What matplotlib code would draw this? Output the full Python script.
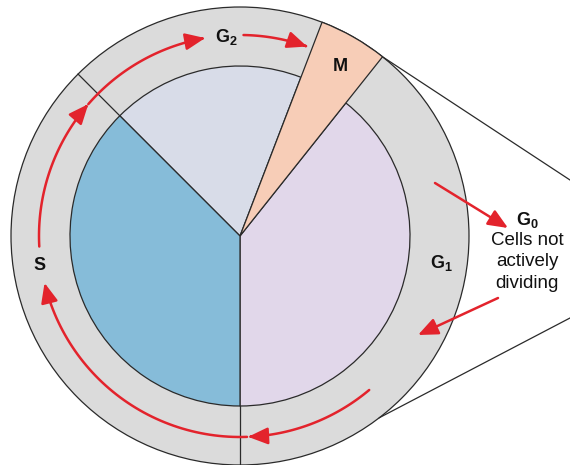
import numpy as np
import matplotlib
matplotlib.use("Agg")
import matplotlib.pyplot as plt
from matplotlib.patches import Wedge, Circle, FancyArrowPatch
from matplotlib.path import Path

plt.rcParams['font.family'] = ['Liberation Sans', 'DejaVu Sans']
plt.rcParams['mathtext.fontset'] = 'custom'
plt.rcParams['mathtext.rm'] = 'Liberation Sans'
plt.rcParams['mathtext.bf'] = 'Liberation Sans:bold'
plt.rcParams['mathtext.it'] = 'Liberation Sans:italic'

# ---- data: cell-cycle phases (angles in degrees, counter-clockwise from +x) ----
phases = ['G1', 'M', 'G2', 'S']
phase_start = [-90.0, 51.5, 69.0, 135.0]
phase_end = [51.5, 69.0, 135.0, 270.0]
phase_colors = ['#E1D7EA', '#F7CDB7', '#D8DCE8', '#86BCD9']
phase_labels = [r'$\mathbf{G_1}$', r'$\mathbf{M}$', r'$\mathbf{G_2}$', r'$\mathbf{S}$']
label_xy = [(441, 202), (340, 398), (226, 428), (40, 200)]

# cycle arrows along the ring (start angle, end angle)
arc_start = [183.0, 139.0, 89.0, 310.0, 272.0]
arc_end = [139.0, 100.0, 70.5, 272.3, 193.5]

# G0 side arrows (x0, y0, x1, y1)
g0_arrows = [(435, 282, 508, 237), (498, 167, 418, 130)]
g0_lines = [r'$\mathbf{G_0}$', 'Cells not', 'actively', 'dividing']
g0_y = [245, 224, 203, 182]

# ---- geometry ----
cx, cy = 240.0, 229.0
r_in, r_out, r_arc = 170.0, 229.0, 201.0
edge = '#2a2a2a'
red = '#E3232C'
ring = '#DBDBDB'

fig = plt.figure(figsize=(5.7, 4.65), dpi=100)
ax = fig.add_axes([0, 0, 1, 1])

# outer ring
ax.add_patch(Circle((cx, cy), r_out, facecolor=ring, edgecolor=edge, lw=0.9, zorder=1))

# inner sectors
for name, a0, a1, col in zip(phases, phase_start, phase_end, phase_colors):
    if name == 'M':
        continue
    ax.add_patch(Wedge((cx, cy), r_in, a0, a1, facecolor=col, edgecolor=edge, lw=0.9, zorder=2))

# M spans the full radius
im = phases.index('M')
ax.add_patch(Wedge((cx, cy), r_out, phase_start[im], phase_end[im],
                   facecolor=phase_colors[im], edgecolor=edge, lw=0.9, zorder=3))

# radial boundaries through the ring
for ang in [135.0, 270.0]:
    t = np.deg2rad(ang)
    ax.plot([cx + r_in * np.cos(t), cx + r_out * np.cos(t)],
            [cy + r_in * np.sin(t), cy + r_out * np.sin(t)], color=edge, lw=0.9, zorder=3)

# fan lines to the G0 region
t_up = np.deg2rad(51.5)
t_lo = np.deg2rad(-52.5)
ax.plot([cx + r_out * np.cos(t_up), 570], [cy + r_out * np.sin(t_up), 285], color=edge, lw=0.9, zorder=3)
ax.plot([cx + r_out * np.cos(t_lo), 570], [cy + r_out * np.sin(t_lo), 147], color=edge, lw=0.9, zorder=3)

# red cycle arrows
for a0, a1 in zip(arc_start, arc_end):
    th = np.deg2rad(np.linspace(a0, a1, 60))
    verts = np.column_stack([cx + r_arc * np.cos(th), cy + r_arc * np.sin(th)])
    codes = [Path.MOVETO] + [Path.LINETO] * (len(verts) - 1)
    arr = FancyArrowPatch(path=Path(verts, codes),
                          arrowstyle='-|>,head_length=0.75,head_width=0.32',
                          mutation_scale=16, color=red, lw=1.8, zorder=5,
                          shrinkA=0, shrinkB=0)
    ax.add_patch(arr)

for x0, y0, x1, y1 in g0_arrows:
    ax.add_patch(FancyArrowPatch((x0, y0), (x1, y1),
                                 arrowstyle='-|>,head_length=0.75,head_width=0.32',
                                 mutation_scale=16, color=red, lw=1.8, zorder=5,
                                 shrinkA=0, shrinkB=0))

# labels
for lab, (x, y) in zip(phase_labels, label_xy):
    ax.text(x, y, lab, ha='center', va='center', fontsize=13, color='#111111', zorder=6)

for i, (txt, y) in enumerate(zip(g0_lines, g0_y)):
    ax.text(527, y, txt, ha='center', va='center', fontsize=13 if i == 0 else 13.5,
            color='#111111', zorder=6)

ax.set_xlim(0, 570)
ax.set_ylim(0, 465)
ax.set_aspect('equal')
ax.axis('off')

fig.savefig('out.png', dpi=100, facecolor='white')
